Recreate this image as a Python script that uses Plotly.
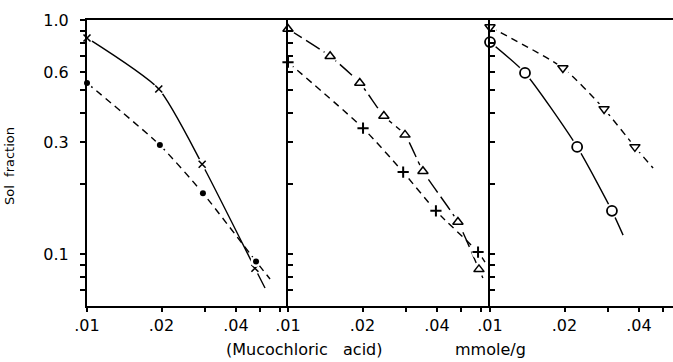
import math
import plotly.graph_objects as go

# ---------------- data ----------------
# Panel 1
p1_cross_x = [0.0100, 0.0195, 0.0292, 0.0477]
p1_cross_y = [0.838, 0.507, 0.242, 0.087]
p1_cross_end = [0.0524, 0.0716]
p1_dot_x = [0.0100, 0.0197, 0.0294, 0.0482]
p1_dot_y = [0.538, 0.292, 0.182, 0.093]
p1_dot_end = [0.0549, 0.0782]

# Panel 2
p2_tri_x = [0.0100, 0.0148, 0.0195, 0.0244, 0.0297, 0.0351, 0.0486, 0.0591]
p2_tri_y = [0.915, 0.700, 0.538, 0.389, 0.323, 0.226, 0.137, 0.086]
p2_tri_end = [0.0613, 0.079]
p2_plus_x = [0.0100, 0.0201, 0.0292, 0.0396, 0.0586]
p2_plus_y = [0.660, 0.345, 0.224, 0.153, 0.102]
p2_plus_end = [0.0625, 0.0924]

# Panel 3
p3_tdown_x = [0.0100, 0.0197, 0.0289, 0.0385]
p3_tdown_y = [0.933, 0.624, 0.417, 0.287]
p3_tdown_end = [0.0456, 0.233]
p3_circ_x = [0.0100, 0.01385, 0.0225, 0.0311]
p3_circ_y = [0.805, 0.594, 0.287, 0.153]
p3_circ_end = [0.0345, 0.1205]

# Axis ticks
x_tickvals = [0.01, 0.02, 0.03, 0.04, 0.05, 0.06]
x_ticktext = [".01", ".02", "", ".04", "", ""]
y_tickvals = [1.0, 0.9, 0.8, 0.7, 0.6, 0.5, 0.4, 0.3, 0.2, 0.1, 0.09, 0.08, 0.07]
y_ticktext = ["1.0", "", "", "", "0.6", "", "", "0.3", "", "0.1", "", "", ""]

FONT = "DejaVu Sans"
fig = go.Figure()


def add_series(xs, ys, end, xa, ya, symbol, msize, mline, dash, fill):
    lx = xs + [end[0]]
    ly = ys + [end[1]]
    fig.add_trace(go.Scatter(x=lx, y=ly, mode="lines", xaxis=xa, yaxis=ya,
                             line=dict(color="black", width=1.4, dash=dash,
                                       shape="spline", smoothing=0.6),
                             hoverinfo="skip", showlegend=False))
    # white halo to leave a small gap in the curve around each mark
    fig.add_trace(go.Scatter(x=xs, y=ys, mode="markers", xaxis=xa, yaxis=ya,
                             marker=dict(symbol="circle", size=msize + 5, color="white",
                                         line=dict(width=0)),
                             cliponaxis=False, hoverinfo="skip", showlegend=False))
    fig.add_trace(go.Scatter(x=xs, y=ys, mode="markers", xaxis=xa, yaxis=ya,
                             marker=dict(symbol=symbol, size=msize, color=fill,
                                         line=dict(color="black", width=mline)),
                             cliponaxis=False, showlegend=False))


add_series(p1_cross_x, p1_cross_y, p1_cross_end, "x", "y", "x-thin", 7, 1.6, "solid", "black")
add_series(p1_dot_x, p1_dot_y, p1_dot_end, "x", "y", "circle", 6, 0, "7px,5px", "black")
add_series(p2_tri_x, p2_tri_y, p2_tri_end, "x2", "y2", "triangle-up", 9, 1.5, "16px,5px", "white")
add_series(p2_plus_x, p2_plus_y, p2_plus_end, "x2", "y2", "cross-thin", 8, 2, "7px,5px", "black")
add_series(p3_tdown_x, p3_tdown_y, p3_tdown_end, "x3", "y3", "triangle-down", 9, 1.5, "7px,5px", "white")
add_series(p3_circ_x, p3_circ_y, p3_circ_end, "x3", "y3", "circle", 10, 1.8, "solid", "white")

L, R, T, B = 87, 0, 20, 56
W, H = 673, 362
pw = W - L - R
ph = H - T - B
d1 = 201 / pw
d2 = 403 / pw
oct_px = 74.5


def rng(px):
    return [-2, -2 + math.log10(2) * px / oct_px]


xcommon = dict(type="log", showgrid=False, zeroline=False, showline=True,
               linecolor="black", linewidth=2, mirror=True, automargin=False,
               ticks="outside", ticklen=4, tickwidth=1.5, tickcolor="black",
               tickvals=x_tickvals, ticktext=x_ticktext,
               tickfont=dict(family=FONT, size=16, color="black"))
ycommon = dict(type="log", range=[-1.222, 0], showgrid=False, zeroline=False,
               showline=True, linecolor="black", linewidth=2, automargin=False,
               ticklen=5, tickwidth=1.5, tickcolor="black",
               tickvals=y_tickvals, ticktext=y_ticktext,
               tickfont=dict(family=FONT, size=16, color="black"))


def px_ann(text, x, y, size, angle=0):
    return dict(text=text, xref="paper", yref="paper",
                x=(x - L) / pw, y=(H - B - y) / ph,
                xanchor="center", yanchor="middle", textangle=angle,
                showarrow=False, font=dict(family=FONT, size=size, color="black"))


fig.update_layout(
    width=W, height=H,
    margin=dict(l=L, r=R, t=T, b=B, autoexpand=False),
    paper_bgcolor="white", plot_bgcolor="white",
    xaxis=dict(xcommon, domain=[0, d1], range=rng(201), anchor="y"),
    xaxis2=dict(xcommon, domain=[d1, d2], range=rng(202), anchor="y2"),
    xaxis3=dict(xcommon, domain=[d2, 1], range=rng(183), anchor="y3"),
    yaxis=dict(ycommon, anchor="x", ticks="outside", ticklabelstandoff=8),
    yaxis2=dict(ycommon, anchor="x2", ticks="inside", showticklabels=False),
    yaxis3=dict(ycommon, anchor="x3", ticks="inside", showticklabels=False),
    annotations=[
        px_ann("Sol  fraction", 10, 166, 13, -90),
        px_ann("(Mucochloric   acid)", 304, 350, 16),
        px_ann("mmole/g", 490, 350, 16),
    ],
)

fig.write_html("out.html", config={"displayModeBar": False},
               post_script="document.body.style.margin='0';document.body.style.overflow='hidden';")
